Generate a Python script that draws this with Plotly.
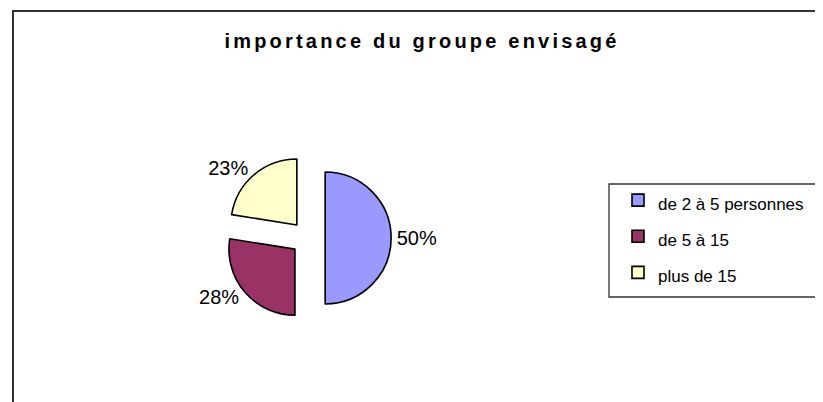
import plotly.graph_objects as go

# Data
categories = ["de 2 à 5 personnes", "de 5 à 15", "plus de 15"]
counts = [20, 11, 9]
colors = ["#9999FF", "#993366", "#FFFFCC"]

# the page body has an 8px margin, so the figure fills what is left of the window
OFF = 8
W, H = 823 - OFF, 402 - OFF


def px_x(v):
    return (v - OFF) / W


def px_y(v):
    return 1 - (v - OFF) / H


# pie geometry (window pixels): centre of unpulled pie, radius, pull fraction
cx, cy, r, pull = 308, 238, 66, 0.26
half = r * (1 + pull)

fig = go.Figure()
fig.add_trace(go.Pie(
    labels=[f'<span style="font-size:17px">{c}</span>' for c in categories],
    values=counts,
    sort=False,
    direction="clockwise",
    rotation=0,
    pull=[pull] * len(counts),
    marker=dict(colors=colors, line=dict(color="black", width=1.6)),
    texttemplate="%{percent:.0%}",
    textposition="outside",
    textfont=dict(family="Liberation Sans, Arial", size=20, color="black"),
    domain=dict(x=[px_x(cx - half), px_x(cx + half)],
                y=[px_y(cy + half), px_y(cy - half)]),
    hoverinfo="label+percent",
))

fig.update_layout(
    width=W, height=H, autosize=False,
    margin=dict(l=0, r=0, t=0, b=0, pad=0),
    paper_bgcolor="white",
    plot_bgcolor="white",
    title=dict(
        text='<span style="letter-spacing:3.2px">importance du groupe envisagé</span>',
        x=px_x(422), y=px_y(41), xanchor="center", yanchor="middle",
        xref="paper", yref="paper",
        font=dict(family="Liberation Sans, Arial", size=20, color="black", weight="bold"),
    ),
    legend=dict(
        x=px_x(618), y=px_y(177), xanchor="left", yanchor="top",
        bgcolor="rgba(0,0,0,0)", borderwidth=0,
        font=dict(family="Liberation Sans, Arial", size=25.5, color="black"),
        itemclick=False, itemdoubleclick=False,
    ),
    showlegend=True,
    shapes=[
        # chart frame (runs off the right and bottom edges)
        dict(type="rect", xref="paper", yref="paper",
             x0=px_x(13), y0=px_y(11), x1=px_x(840), y1=px_y(420),
             line=dict(color="#333333", width=2), fillcolor="rgba(0,0,0,0)", layer="below"),
        # legend box
        dict(type="rect", xref="paper", yref="paper",
             x0=px_x(609), y0=px_y(184), x1=px_x(840), y1=px_y(297),
             line=dict(color="#333333", width=1.3), fillcolor="rgba(0,0,0,0)", layer="below"),
    ],
)

fig.write_html("out.html")
